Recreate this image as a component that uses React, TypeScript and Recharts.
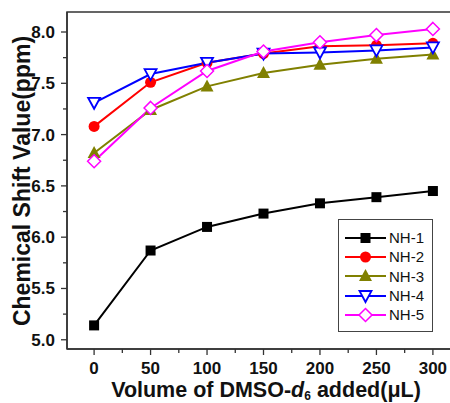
import React from 'react';
import { LineChart, Line, XAxis, YAxis, ReferenceArea } from 'recharts';

const volumes = [0, 50, 100, 150, 200, 250, 300];
const nh1 = [5.14, 5.87, 6.1, 6.23, 6.33, 6.39, 6.45];
const nh2 = [7.08, 7.51, 7.7, 7.79, 7.86, 7.87, 7.89];
const nh3 = [6.82, 7.24, 7.47, 7.6, 7.68, 7.74, 7.78];
const nh4 = [7.31, 7.59, 7.7, 7.79, 7.8, 7.82, 7.85];
const nh5 = [6.74, 7.26, 7.62, 7.81, 7.9, 7.97, 8.03];

const xTicks = [0, 25, 50, 75, 100, 125, 150, 175, 200, 225, 250, 275, 300];
const yTicks = [5, 5.25, 5.5, 5.75, 6, 6.25, 6.5, 6.75, 7, 7.25, 7.5, 7.75, 8];

const X_DOMAIN: [number, number] = [-24, 324];
const Y_DOMAIN: [number, number] = [4.91, 8.195];

const data = volumes.map((v, i) => ({
  v,
  nh1: nh1[i],
  nh2: nh2[i],
  nh3: nh3[i],
  nh4: nh4[i],
  nh5: nh5[i],
}));

const AXIS = '#333';
const FONT = 'Arial, "Liberation Sans", sans-serif';

type ShapeKind = 'square' | 'circle' | 'up' | 'down' | 'diamond';

const series: { key: string; name: string; color: string; shape: ShapeKind }[] = [
  { key: 'nh1', name: 'NH-1', color: '#000000', shape: 'square' },
  { key: 'nh2', name: 'NH-2', color: '#ff0000', shape: 'circle' },
  { key: 'nh3', name: 'NH-3', color: '#808000', shape: 'up' },
  { key: 'nh4', name: 'NH-4', color: '#0000ff', shape: 'down' },
  { key: 'nh5', name: 'NH-5', color: '#ff00ff', shape: 'diamond' },
];

function Marker({ cx, cy, shape, color }: { cx: number; cy: number; shape: ShapeKind; color: string }) {
  switch (shape) {
    case 'square':
      return <rect x={cx - 5} y={cy - 5} width={10} height={10} fill={color} />;
    case 'circle':
      return <circle cx={cx} cy={cy} r={5.5} fill={color} />;
    case 'up':
      return <polygon points={`${cx},${cy - 7} ${cx + 6.5},${cy + 5} ${cx - 6.5},${cy + 5}`} fill={color} />;
    case 'down':
      return (
        <polygon
          points={`${cx - 6},${cy - 5} ${cx + 6},${cy - 5} ${cx},${cy + 6}`}
          fill="#fff"
          stroke={color}
          strokeWidth={1.8}
        />
      );
    case 'diamond':
      return (
        <polygon
          points={`${cx},${cy - 6.5} ${cx + 6.5},${cy} ${cx},${cy + 6.5} ${cx - 6.5},${cy}`}
          fill="#fff"
          stroke={color}
          strokeWidth={1.5}
        />
      );
  }
}

const XTick = (props: any) => {
  const { x, y, payload } = props;
  const major = payload.value % 50 === 0;
  return (
    <g>
      <line x1={x} y1={y} x2={x} y2={y + (major ? 6 : 4)} stroke={AXIS} strokeWidth={1.3} />
      {major && (
        <text x={x} y={y + 25} textAnchor="middle" fontFamily={FONT} fontWeight="bold" fontSize={17} fill="#111">
          {payload.value}
        </text>
      )}
    </g>
  );
};

const YTick = (props: any) => {
  const { x, y, payload } = props;
  const major = Math.abs(payload.value * 2 - Math.round(payload.value * 2)) < 1e-6;
  return (
    <g>
      <line x1={x - (major ? 6 : 4)} y1={y} x2={x} y2={y} stroke={AXIS} strokeWidth={1.3} />
      {major && (
        <text x={x - 12} y={y + 6} textAnchor="end" fontFamily={FONT} fontWeight="bold" fontSize={17} fill="#111">
          {payload.value.toFixed(1)}
        </text>
      )}
    </g>
  );
};

const LegendBox = () => (
  <div
    style={{
      position: 'absolute',
      left: 338,
      top: 219,
      width: 95,
      height: 113,
      border: '1.3px solid #444',
      boxSizing: 'border-box',
      background: '#fff',
      padding: '8px 0 0 6px',
    }}
  >
    {series.map((s) => (
      <div key={s.key} style={{ display: 'flex', alignItems: 'center', height: 19.3 }}>
        <svg width={42} height={16}>
          <line x1={0} y1={8} x2={41} y2={8} stroke={s.color} strokeWidth={2} />
          <Marker cx={20.5} cy={8} shape={s.shape} color={s.color} />
        </svg>
        <span style={{ fontFamily: FONT, fontSize: 15, color: '#111', marginLeft: 2 }}>{s.name}</span>
      </div>
    ))}
  </div>
);

export default function App() {
  return (
    <div style={{ position: 'fixed', left: 0, top: 0, width: 450, height: 403, overflow: 'hidden', background: '#fff' }}>
      <LineChart width={470} height={403} data={data} margin={{ top: 12, right: 10, left: 0, bottom: 0 }}>
        <XAxis
          dataKey="v"
          type="number"
          domain={X_DOMAIN}
          ticks={xTicks}
          allowDataOverflow
          height={54}
          tickSize={0}
          tickMargin={0}
          tickLine={false}
          axisLine={{ stroke: AXIS, strokeWidth: 1.5 }}
          tick={<XTick />}
          interval={0}
          label={() => (
            <text x={266} y={397} textAnchor="middle" fontFamily={FONT} fontWeight="bold" fontSize={21.5} fill="#111">
              Volume of DMSO-<tspan fontStyle="italic">d</tspan>
              <tspan fontSize={12} dy={3}>6</tspan>
              <tspan dy={-3}> added(μL)</tspan>
            </text>
          )}
        />
        <YAxis
          type="number"
          domain={Y_DOMAIN}
          ticks={yTicks}
          allowDataOverflow
          width={67}
          tickSize={0}
          tickMargin={0}
          tickLine={false}
          axisLine={{ stroke: AXIS, strokeWidth: 1.5 }}
          tick={<YTick />}
          interval={0}
          label={() => (
            <text
              x={30}
              y={181}
              transform="rotate(-90 30 181)"
              textAnchor="middle"
              fontFamily={FONT}
              fontWeight="bold"
              fontSize={23}
              fill="#111"
            >
              Chemical Shift Value(ppm)
            </text>
          )}
        />
        <ReferenceArea
          x1={X_DOMAIN[0]}
          x2={X_DOMAIN[1]}
          y1={Y_DOMAIN[0]}
          y2={Y_DOMAIN[1]}
          fill="none"
          stroke={AXIS}
          strokeWidth={1.5}
          ifOverflow="visible"
        />
        {series.map((s) => (
          <Line
            key={s.key}
            dataKey={s.key}
            name={s.name}
            stroke={s.color}
            strokeWidth={2}
            isAnimationActive={false}
            dot={(p: any) => <Marker key={`${s.key}-${p.index}`} cx={p.cx} cy={p.cy} shape={s.shape} color={s.color} />}
            activeDot={false}
          />
        ))}
      </LineChart>
      <LegendBox />
    </div>
  );
}
